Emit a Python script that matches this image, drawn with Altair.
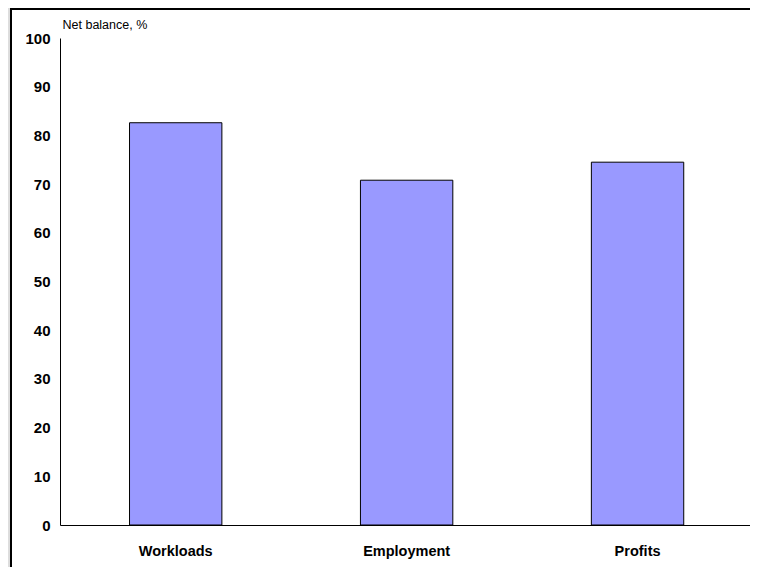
import altair as alt
import pandas as pd

categories = ["Workloads", "Employment", "Profits"]
values = [82.6, 70.8, 74.5]
y_ticks = [0, 10, 20, 30, 40, 50, 60, 70, 80, 90, 100]

df = pd.DataFrame({"category": categories, "value": values})

FONT = "Liberation Sans"
one = pd.DataFrame({"k": [0]})

panel = alt.Chart(one).mark_rect(fill="white", strokeWidth=0).encode(
    x=alt.value(-49), x2=alt.value(760),
    y=alt.value(-29), y2=alt.value(560),
)
top_border = alt.Chart(one).mark_rule(color="black", strokeWidth=2).encode(
    x=alt.value(-50), x2=alt.value(760), y=alt.value(-29),
)
left_border = alt.Chart(one).mark_rule(color="black", strokeWidth=2).encode(
    x=alt.value(-49), y=alt.value(-30), y2=alt.value(560),
)

bars = alt.Chart(df).mark_bar(
    color="#9999FF", stroke="black", strokeWidth=1
).encode(
    x=alt.X("category:N", sort=categories,
            scale=alt.Scale(paddingInner=0.6, paddingOuter=0.294, align=0.512),
            axis=alt.Axis(title=None, labelAngle=0, ticks=False, domainColor="black",
                          domainWidth=1, labelFont=FONT, labelFontSize=14.5,
                          labelFontWeight="bold", labelColor="black", labelPadding=19,
                          grid=False, zindex=1)),
    y=alt.Y("value:Q", scale=alt.Scale(domain=[0, 100], nice=False),
            axis=alt.Axis(values=y_ticks, title="Net balance, %", titleAngle=0,
                          titleX=2, titleY=-10, titleAlign="left",
                          titleBaseline="alphabetic", titleFont=FONT,
                          titleFontSize=12.5, titleFontWeight="normal", titleColor="black",
                          ticks=False, domainColor="black", domainWidth=1,
                          labelFont=FONT, labelFontSize=15, labelFontWeight="bold",
                          labelColor="black", labelPadding=10, grid=False, zindex=1)),
)

chart = alt.layer(panel, top_border, left_border, bars).properties(
    width=690, height=487,
    autosize=alt.AutoSizeParams(type="none"),
    padding={"left": 52, "top": 30, "right": 0, "bottom": 42},
    background="#DDDDDD",
).configure_view(stroke=None)

chart.save("out.html", embed_options={"renderer": "svg", "actions": False})
